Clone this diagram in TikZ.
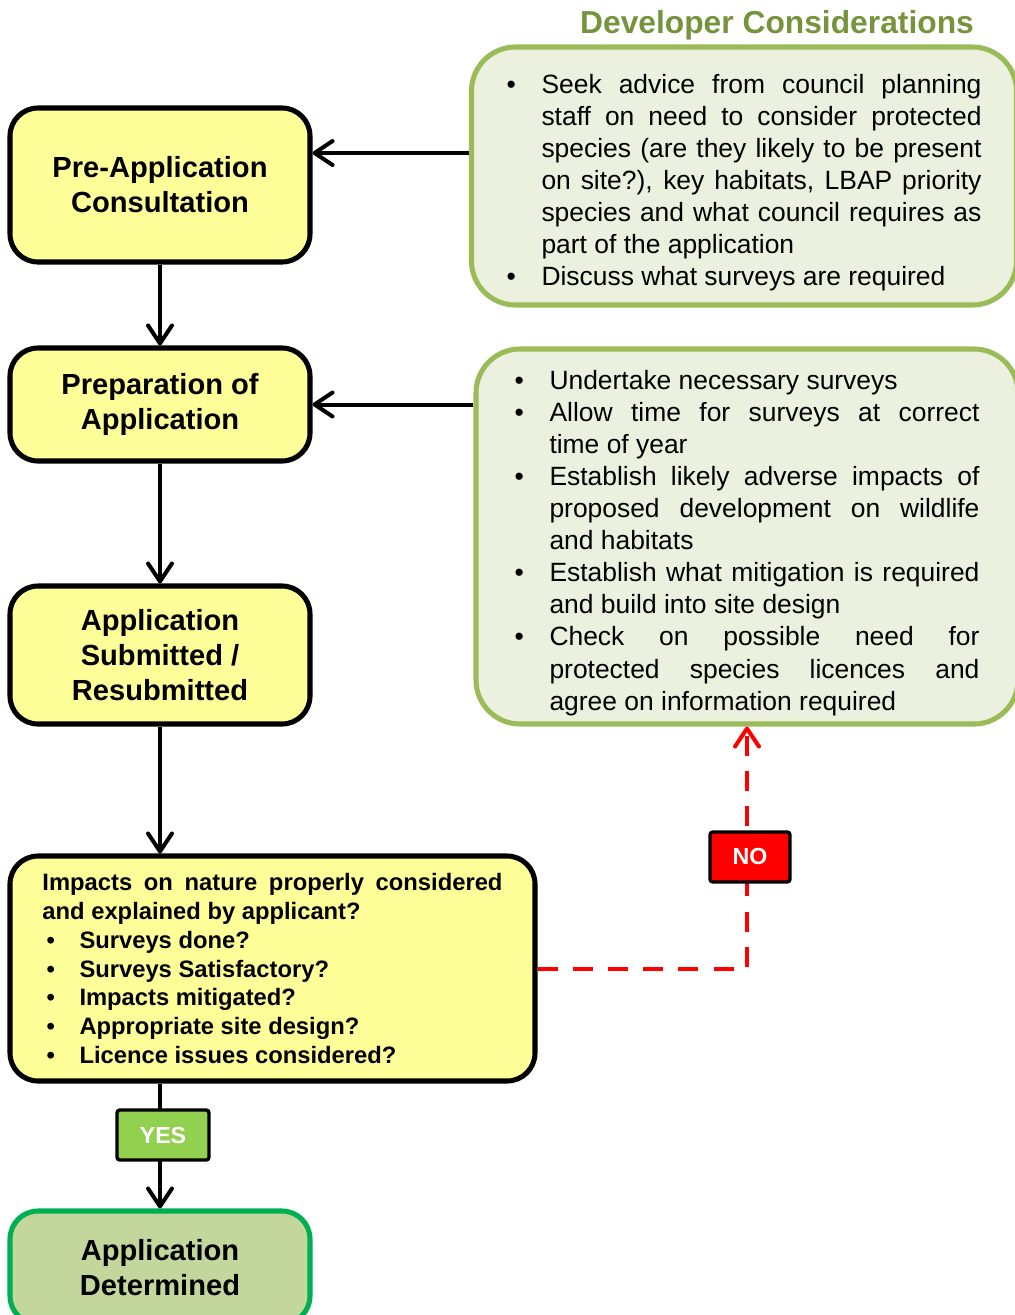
\documentclass[tikz,border=0pt]{standalone}
\usepackage{fontspec}
\setmainfont{Liberation Sans}
\usepackage{enumitem}
\usetikzlibrary{arrows.meta,positioning}
\definecolor{stepfill}{HTML}{FFFF99}
\definecolor{devfill}{HTML}{EBF1DE}
\definecolor{devline}{HTML}{9BBB59}
\definecolor{devtitle}{HTML}{77933C}
\definecolor{donefill}{HTML}{C3D69B}
\definecolor{doneline}{HTML}{00B050}
\definecolor{yesfill}{HTML}{92D050}
\setlist[itemize]{nosep,label=\textbullet,align=left,labelsep=0pt}

\begin{document}
\begin{tikzpicture}[
  stepbox/.style={draw,line width=3.6pt,rounded corners=0.7cm,fill=stepfill,
    minimum width=7.5cm,align=center,inner sep=0pt,
    font=\fontsize{20.7}{24.9}\selectfont\bfseries},
  devbox/.style={draw=devline,line width=3.6pt,rounded corners=1.1cm,fill=devfill,
    align=justify,inner sep=0pt,font=\fontsize{18.8}{22.8}\selectfont},
  tagbox/.style={draw,line width=2.4pt,rounded corners=2pt,minimum width=2cm,
    minimum height=1.25cm,text=white,font=\fontsize{16.5}{20}\selectfont\bfseries},
  flow/.style={line width=2.85pt,
    -{Straight Barb[round,length=0.45cm,width=0.6cm,line width=2.85pt]}},
  nopath/.style={flow,red,dash pattern=on 0.5cm off 0.38cm}
]
  \useasboundingbox (0,0) rectangle (25.375,-32.875);

  \node[font=\fontsize{22.6}{27}\selectfont\bfseries,text=devtitle] (title) at (19.425,-0.625)
    {Developer Considerations};

  \node[stepbox,minimum height=3.85cm] (pre) at (4.0,-4.625) {Pre-Application\\Consultation};
  \node[stepbox,minimum height=2.825cm] (prep) at (4.0,-10.1125) {Preparation of\\Application};
  \node[stepbox,minimum height=3.45cm] (sub) at (4.0,-16.375) {Application\\Submitted /\\Resubmitted};
  \node[stepbox,minimum width=13.125cm,minimum height=5.625cm,text width=11.5cm,align=justify,
    font=\fontsize{16.9}{20.6}\selectfont\bfseries] (dec) at (6.8125,-24.2125)
    {Impacts on nature properly considered\linebreak and explained by applicant?
     \begin{itemize}[leftmargin=0.925cm,labelindent=0.1cm,labelwidth=0.825cm]
       \item Surveys done?
       \item Surveys Satisfactory?
       \item Impacts mitigated?
       \item Appropriate site design?
       \item Licence issues considered?
     \end{itemize}};
  \node[stepbox,draw=doneline,fill=donefill,minimum height=2.825cm] (det) at (4.0,-31.6875)
    {Application\\Determined};

  \node[devbox,minimum width=13.625cm,minimum height=6.45cm,text width=11.875cm] (dev1) at (18.6,-4.4)
    {\begin{itemize}[leftmargin=0.875cm,labelindent=0pt,labelwidth=0.875cm]
       \item Seek advice from council planning\linebreak staff on need to consider protected\linebreak
         species (are they likely to be present\linebreak on site?), key habitats, LBAP priority\linebreak
         species and what council requires as\linebreak part of the application
       \item Discuss what surveys are required
     \end{itemize}};
  \node[devbox,minimum width=13.55cm,minimum height=9.375cm,text width=11.625cm] (dev2) at (18.675,-13.4125)
    {\begin{itemize}[leftmargin=0.875cm,labelindent=0pt,labelwidth=0.875cm]
       \item Undertake necessary surveys
       \item Allow time for surveys at correct\linebreak time of year
       \item Establish likely adverse impacts of\linebreak proposed development on wildlife\linebreak and habitats
       \item Establish what mitigation is required\linebreak and build into site design
       \item Check on possible need for\linebreak protected species licences and\linebreak agree on information required
     \end{itemize}};

  \coordinate (adv) at (0,-3.825);
  \draw[flow] (dev1.west |- adv) -- (pre.east |- adv);
  \draw[flow] (dev2.west |- prep.east) -- (prep.east);
  \draw[flow] (pre) -- (prep);
  \draw[flow] (prep) -- (sub);
  \draw[flow] (sub.south) -- (sub.south |- dec.north);
  \draw[flow] (det.north |- dec.south) -- (det.north);
  \draw[nopath] (dec.east) -| (dev2.south);

  \node[tagbox,fill=red] (no) at (18.75,-21.425) {NO};
  \node[tagbox,fill=yesfill,minimum width=2.3cm] (yes) at (4.075,-28.375) {YES};
\end{tikzpicture}
\end{document}
